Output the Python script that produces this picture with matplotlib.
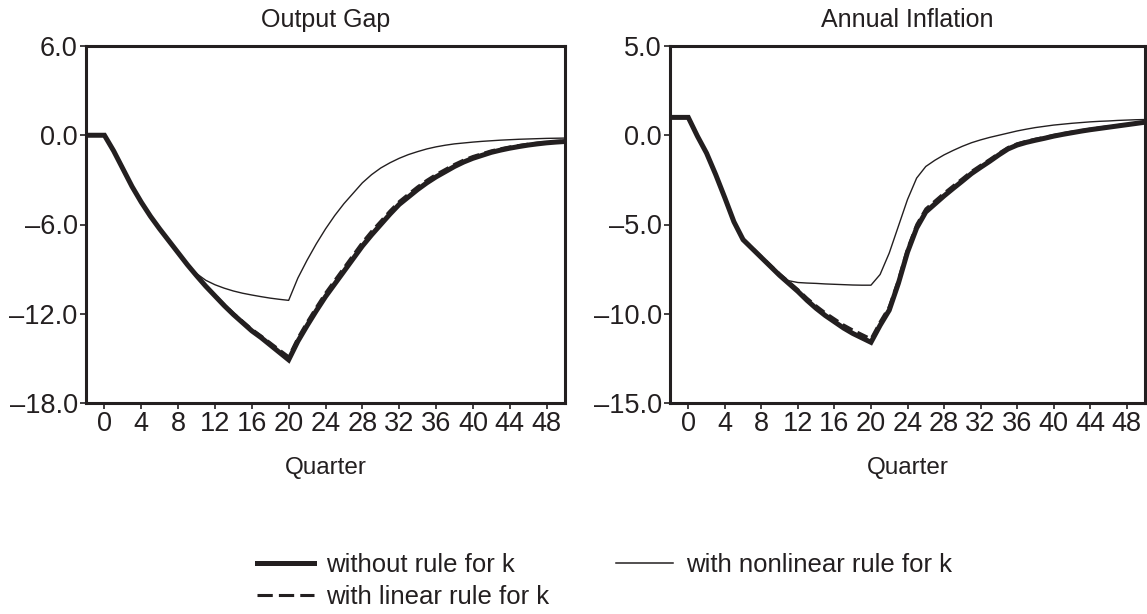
import numpy as np
import matplotlib
matplotlib.use('Agg')
import matplotlib.pyplot as plt
from matplotlib.lines import Line2D

plt.rcParams['font.family'] = ['Liberation Sans', 'DejaVu Sans']
INK = '#231f20'

quarters = np.arange(-2, 51)

# Output gap
gap_without = [0.0, 0.0, 0.0,
               -1.05, -2.25, -3.45, -4.5, -5.45, -6.3, -7.1, -7.9, -8.7, -9.44,
               -10.15, -10.8, -11.45, -12.05, -12.6, -13.15, -13.6, -14.1, -14.6, -15.1,
               -13.85, -12.8, -11.8, -10.85, -10.0, -9.15, -8.3, -7.45, -6.7, -6.0,
               -5.3, -4.65, -4.15, -3.65, -3.2, -2.8, -2.45, -2.1, -1.8, -1.55,
               -1.35, -1.15, -1.0, -0.87, -0.76, -0.66, -0.58, -0.51, -0.46, -0.42]
gap_linear = [0.0, 0.0, 0.0,
              -1.05, -2.25, -3.45, -4.5, -5.45, -6.3, -7.1, -7.9, -8.7, -9.42,
              -10.1, -10.75, -11.38, -11.97, -12.5, -13.03, -13.48, -13.95, -14.42, -14.88,
              -13.62, -12.56, -11.56, -10.6, -9.75, -8.9, -8.05, -7.2, -6.45, -5.77,
              -5.08, -4.45, -3.95, -3.46, -3.02, -2.63, -2.29, -1.95, -1.66, -1.42,
              -1.23, -1.04, -0.9, -0.78, -0.68, -0.59, -0.52, -0.46, -0.41, -0.38]
gap_nonlinear = [0.0, 0.0, 0.0,
                 -1.05, -2.25, -3.45, -4.5, -5.45, -6.3, -7.1, -7.9, -8.65, -9.3,
                 -9.75, -10.05, -10.28, -10.47, -10.62, -10.74, -10.85, -10.95, -11.03, -11.1,
                 -9.6, -8.4, -7.3, -6.3, -5.4, -4.6, -3.9, -3.2, -2.65, -2.2,
                 -1.85, -1.55, -1.3, -1.1, -0.92, -0.78, -0.67, -0.58, -0.52, -0.46,
                 -0.41, -0.37, -0.33, -0.3, -0.27, -0.25, -0.23, -0.21, -0.2, -0.19]

# Annual inflation
inf_without = [1.0, 1.0, 1.0,
               -0.05, -1.0, -2.2, -3.5, -4.85, -5.85, -6.35, -6.85, -7.35, -7.85,
               -8.3, -8.75, -9.25, -9.7, -10.1, -10.45, -10.8, -11.1, -11.35, -11.6,
               -10.65, -9.8, -8.3, -6.55, -5.2, -4.3, -3.85, -3.4, -2.98, -2.57,
               -2.15, -1.8, -1.46, -1.1, -0.77, -0.55, -0.4, -0.28, -0.17, -0.05,
               0.05, 0.14, 0.23, 0.31, 0.38, 0.45, 0.52, 0.59, 0.66, 0.73]
inf_linear = [1.0, 1.0, 1.0,
              -0.05, -1.0, -2.2, -3.5, -4.82, -5.8, -6.3, -6.8, -7.28, -7.76,
              -8.2, -8.64, -9.12, -9.55, -9.94, -10.28, -10.62, -10.9, -11.15, -11.4,
              -10.45, -9.6, -8.1, -6.35, -5.0, -4.12, -3.68, -3.24, -2.83, -2.43,
              -2.02, -1.68, -1.35, -1.0, -0.68, -0.47, -0.33, -0.21, -0.11, 0.0,
              0.1, 0.19, 0.27, 0.35, 0.42, 0.49, 0.55, 0.62, 0.68, 0.74]
inf_nonlinear = [1.0, 1.0, 1.0,
                 -0.05, -1.0, -2.2, -3.5, -4.85, -5.85, -6.35, -6.85, -7.35, -7.85,
                 -8.15, -8.25, -8.28, -8.3, -8.33, -8.35, -8.37, -8.39, -8.4, -8.4,
                 -7.8, -6.6, -5.1, -3.6, -2.4, -1.75, -1.4, -1.1, -0.85, -0.62,
                 -0.42, -0.26, -0.12, 0.0, 0.12, 0.24, 0.34, 0.43, 0.5, 0.57,
                 0.62, 0.67, 0.71, 0.75, 0.78, 0.8, 0.83, 0.85, 0.87, 0.88]

labels = ['without rule for k', 'with linear rule for k', 'with nonlinear rule for k']
xticks = list(range(0, 49, 4))

fig = plt.figure(figsize=(11.47, 6.14), dpi=100)
ax1 = fig.add_axes([86/1147, 1 - 403/614, 479/1147, 357/614])
ax2 = fig.add_axes([670/1147, 1 - 403/614, 475/1147, 357/614])

panels = [
    (ax1, 'Output Gap', gap_without, gap_linear, gap_nonlinear, (-18, 6), [6, 0, -6, -12, -18]),
    (ax2, 'Annual Inflation', inf_without, inf_linear, inf_nonlinear, (-15, 5), [5, 0, -5, -10, -15]),
]

for ax, title, y0, y1, y2, ylim, yticks in panels:
    ax.plot(quarters, y0, color=INK, lw=3.6, solid_joinstyle='miter', zorder=2)
    ax.plot(quarters, y1, color=INK, lw=2.0, ls=(0, (4, 2)), zorder=3)
    ax.plot(quarters, y2, color=INK, lw=1.0, zorder=4)
    ax.set_xlim(-2, 50)
    ax.set_ylim(*ylim)
    ax.set_xticks(xticks)
    ax.set_yticks(yticks)
    ax.set_yticklabels([f'{v:.1f}'.replace('-', '\u2013') for v in yticks])
    ax.tick_params(direction='out', length=4, width=1.2, color=INK, labelsize=19.5,
                   labelcolor=INK, pad=2)
    for s in ax.spines.values():
        s.set_linewidth(2.2)
        s.set_color(INK)
    ax.set_title(title, fontsize=18, color=INK, pad=14)
    ax.set_xlabel('Quarter', fontsize=17.5, color=INK, labelpad=14)

handles = [Line2D([], [], color=INK, lw=3.6),
           Line2D([], [], color=INK, lw=2.2, ls=(0, (5, 2))),
           Line2D([], [], color=INK, lw=1.1)]
fig.legend(handles, labels, ncol=2, loc='upper left', bbox_to_anchor=(257/1147, 1 - 553/614),
           frameon=False, fontsize=18.5, handlelength=2.2, handletextpad=0.5,
           columnspacing=2.6, labelspacing=0.3, borderpad=0, borderaxespad=0,
           labelcolor=INK)

fig.savefig('out.png', dpi=100)
